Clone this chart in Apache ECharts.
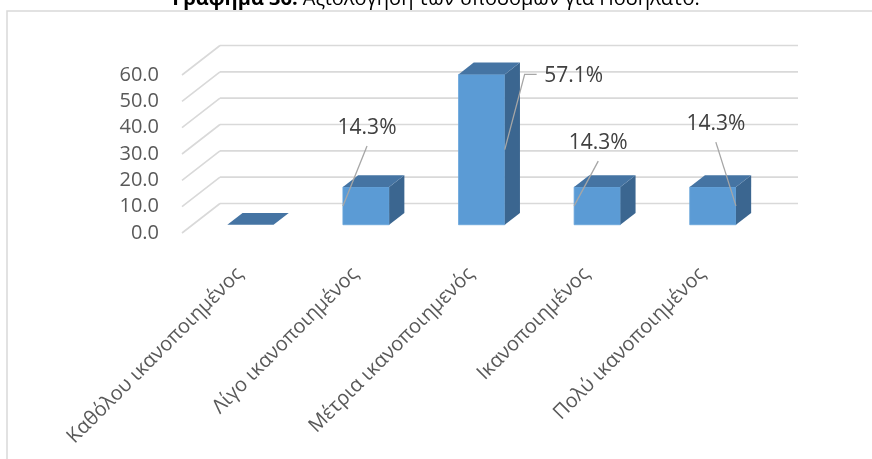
<!DOCTYPE html>
<html>
<head>
<meta charset="utf-8">
<script src="https://cdn.jsdelivr.net/npm/echarts@6/dist/echarts.min.js"></script>
<style>
html, body { margin: 0; padding: 0; background: #fff; }
#main { width: 872px; height: 459px; }
</style>
</head>
<body>
<div id="main"></div>
<script>
// data
var categories = ['Καθόλου ικανοποιημένος', 'Λίγο ικανοποιημένος', 'Μέτρια ικανοποιημενός', 'Ικανοποιημένος', 'Πολύ ικανοποιημένος'];
var values = [0, 14.3, 57.1, 14.3, 14.3];
var yTicks = [0, 10, 20, 30, 40, 50, 60];

var FONT = 'Open Sans';
var depth = { dx: 38, dy: -29.5 };   // front plane -> back wall
var barFront = 0.28, barBack = 0.68; // where the boxes sit in the depth
var barWidth = 0.4;                  // share of the band

// where each data label was dragged to (relative to the top of the bar)
var labelSpots = [
    null,
    { dx: 1, dy: -59, side: 'left' },
    { dx: 92, dy: 2, side: 'right', elbow: true },
    { dx: 1, dy: -44, side: 'left' },
    { dx: 3, dy: -63, side: 'right' }
];

var chart = echarts.init(document.getElementById('main'));

// back wall + side wall gridlines
function renderWalls(params, api) {
    var cs = params.coordSys;
    var y = api.coord([0, api.value(1)])[1];
    var x0 = cs.x, x1 = cs.x + cs.width;
    var style = { stroke: '#d9d9d9', lineWidth: 1.6 };
    return {
        type: 'group',
        children: [
            { type: 'line', shape: { x1: x0, y1: y, x2: x0 + depth.dx, y2: y + depth.dy }, style: style },
            { type: 'line', shape: { x1: x0 + depth.dx, y1: y + depth.dy, x2: x1 + depth.dx, y2: y + depth.dy }, style: style }
        ]
    };
}

// 3d box
function renderBox(params, api) {
    var idx = api.value(0);
    var base = api.coord([idx, 0]);
    var top = api.coord([idx, api.value(1)]);
    var w = api.size([1, 0])[0] * barWidth;
    var fx = depth.dx * barFront, fy = depth.dy * barFront;
    var bx = depth.dx * barBack, by = depth.dy * barBack;
    var l = base[0] - w / 2 + fx, r = base[0] + w / 2 + fx;
    var yb = base[1] + fy, yt = top[1] + fy;
    var ox = bx - fx, oy = by - fy;
    var kids = [];
    if (yb - yt > 0.5) {
        kids.push({ type: 'rect', shape: { x: l, y: yt, width: r - l, height: yb - yt }, style: { fill: '#5b9bd5', stroke: '#6aa6dc', lineWidth: 0.8 } });
        kids.push({ type: 'polygon', shape: { points: [[r, yt], [r + ox, yt + oy], [r + ox, yb + oy], [r, yb]] }, style: { fill: '#3b6690' } });
    }
    kids.push({ type: 'polygon', shape: { points: [[l, yt], [r, yt], [r + ox, yt + oy], [l + ox, yt + oy]] }, style: { fill: '#4574a3' } });

    var spot = labelSpots[idx];
    if (spot) {
        var cx = (l + r) / 2, lx = cx + spot.dx, ly = yt + spot.dy;
        var ey = (yt + yb) / 2;
        var ex = spot.side === 'left' ? l : r;
        var pts = spot.elbow ? [[lx - 37, ly - 2], [lx - 49, ly - 2], [ex, ey]] : [[lx, ly + 18], [ex, ey]];
        kids.push({ type: 'polyline', shape: { points: pts }, style: { stroke: '#a6a6a6', lineWidth: 1.3, fill: null } });
        kids.push({
            type: 'text', x: lx, y: ly,
            style: { text: api.value(1).toFixed(1) + '%', fill: '#404040', font: '21px "' + FONT + '"', align: 'center', verticalAlign: 'middle' }
        });
    }
    return { type: 'group', children: kids };
}

var option = {
    animation: false,
    textStyle: { fontFamily: FONT },
    graphic: [
        { type: 'rect', shape: { x: 7, y: 11, width: 900, height: 500 }, style: { fill: 'none', stroke: '#d9d9d9', lineWidth: 1.5 }, silent: true },
        {
            type: 'text', x: 436, y: -1,
            style: {
                text: '{b|Γράφημα 36:} Αξιολόγηση των υποδομών για Ποδηλάτο.',
                rich: { b: { fontWeight: 'bold', fontSize: 20, fontFamily: FONT, fill: '#000' } },
                font: '20px "' + FONT + '"', fill: '#000', align: 'center', verticalAlign: 'middle'
            }
        }
    ],
    // front plane of the floor / side wall
    grid: { left: 182, right: 112, top: 75, bottom: 226 },
    xAxis: {
        type: 'category',
        data: categories,
        axisLine: { show: false },
        axisTick: { show: false },
        axisLabel: { rotate: 45, margin: 38, fontSize: 20, color: '#595959', interval: 0 }
    },
    yAxis: {
        type: 'value',
        min: 0, max: 60, interval: 10,
        axisLine: { show: false },
        axisTick: { show: false },
        splitLine: { show: false },
        axisLabel: { margin: 23, fontSize: 20, color: '#595959', formatter: function (v) { return v.toFixed(1); } }
    },
    series: [
        {
            type: 'custom',
            renderItem: renderWalls,
            data: yTicks.map(function (v) { return [0, v]; }),
            encode: { x: 0, y: 1 },
            silent: true,
            z: 1
        },
        {
            type: 'custom',
            renderItem: renderBox,
            data: values.map(function (v, i) { return [i, v]; }),
            encode: { x: 0, y: 1 },
            z: 2
        }
    ]
};
chart.setOption(option);
</script>
</body>
</html>
